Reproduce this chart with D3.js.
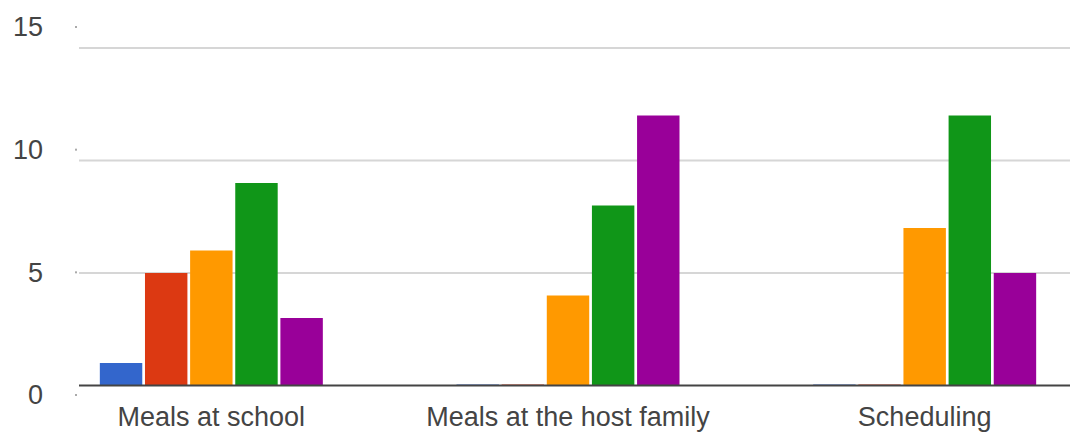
<!DOCTYPE html>
<meta charset="utf-8">
<script src="https://cdn.jsdelivr.net/npm/d3@7"></script>
<style>
body { margin: 0; background: #fff; }
text { font-family: Arial, "Liberation Sans", sans-serif; fill: #444; }
.grid line { stroke: #d6d6d6; stroke-width: 2px; }
</style>
<body>
<script>

var categories = ["Meals at school", "Meals at the host family", "Scheduling"];
var series = ["1", "2", "3", "4", "5"];
var colors = ["#3366cc", "#dc3912", "#ff9900", "#109618", "#990099"];
var values = [
  [1, 5, 6, 9, 3],
  [0, 0, 4, 8, 12],
  [0, 0, 7, 12, 5]
];
var yTicks = [0, 5, 10, 15];

var width = 1070,
    height = 438;

var svg = d3.select("body").append("svg")
    .attr("width", width)
    .attr("height", height);

var y = d3.scaleLinear().domain([0, 15]).range([385.5, 48]);
// the tick labels sit slightly off the gridlines in the original
var yLabel = d3.scaleLinear().domain([0, 15]).range([395, 27]);

var x0 = d3.scaleBand().domain(categories).range([33, 1103]);
var x1 = d3.scaleBand().domain(series).range([0, 223]).paddingInner(0.06);

// gridlines
svg.append("g").attr("class", "grid")
  .selectAll("line")
  .data(yTicks.filter(function(d) { return d > 0; }))
  .enter().append("line")
    .attr("x1", 79).attr("x2", width)
    .attr("y1", function(d) { return y(d); })
    .attr("y2", function(d) { return y(d); });

// y labels
svg.append("g").selectAll("text")
  .data(yTicks)
  .enter().append("text")
    .attr("x", 43)
    .attr("y", function(d) { return yLabel(d); })
    .attr("dy", "0.35em")
    .attr("text-anchor", "end")
    .style("font-size", "27px")
    .text(function(d) { return d; });

svg.append("g").selectAll("rect")
  .data(yTicks)
  .enter().append("rect")
    .attr("x", 75).attr("width", 2).attr("height", 2)
    .attr("y", function(d) { return yLabel(d) - 1; })
    .style("fill", "#aaa");

// bars
var group = svg.append("g").selectAll("g")
  .data(values)
  .enter().append("g")
    .attr("transform", function(d, i) {
      return "translate(" + (x0(categories[i]) + (x0.bandwidth() - 223) / 2) + ",0)";
    });

group.selectAll("rect")
  .data(function(d) { return d; })
  .enter().append("rect")
    .attr("x", function(d, i) { return x1(series[i]); })
    .attr("width", x1.bandwidth())
    .attr("y", function(d) { return Math.min(y(d), y(0) - 1); })
    .attr("height", function(d) { return Math.max(y(0) - y(d), 1); })
    .style("fill", function(d, i) { return colors[i]; });

// baseline
svg.append("line")
    .attr("x1", 79).attr("x2", width)
    .attr("y1", y(0)).attr("y2", y(0))
    .style("stroke", "#444")
    .style("stroke-width", 2);

// category labels
svg.append("g").selectAll("text")
  .data(categories)
  .enter().append("text")
    .attr("x", function(d) { return x0(d) + x0.bandwidth() / 2; })
    .attr("y", 426)
    .attr("text-anchor", "middle")
    .style("font-size", "27px")
    .text(function(d) { return d; });

</script>
</body>
